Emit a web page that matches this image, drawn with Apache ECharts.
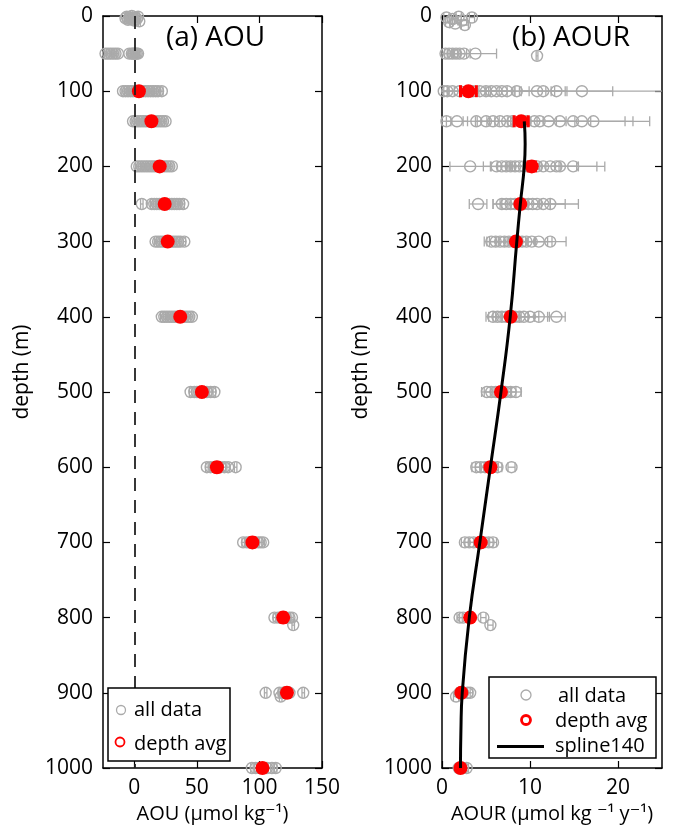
<!DOCTYPE html>
<html>
<head>
<meta charset="utf-8">
<script src="https://cdn.jsdelivr.net/npm/echarts@6/dist/echarts.min.js"></script>
<style>
  html, body { margin: 0; padding: 0; background: #fff; }
  #main { width: 680px; height: 829px; }
</style>
</head>
<body>
<div id="main"></div>
<script>
// depth ticks shared by both panels
var depthTicks = [0, 100, 200, 300, 400, 500, 600, 700, 800, 900, 1000];
var aouTicks = [0, 50, 100, 150];
var aourTicks = [0, 10, 20];

// (a) AOU, all data: [AOU, depth, error]
var aouAll = [
  [-7, 3, 0.8], [-6, 1, 0.8], [-5, 5, 0.8], [-4, 2, 0.8], [-3, 4, 0.8], [-2, 0, 0.8], [-1, 3, 0.8],
  [0, 6, 0.8], [1, 2, 0.8], [2, 4, 0.8], [3, 1, 0.8], [4, 7, 0.8],
  [-23, 50, 0.8], [-21, 50, 0.8], [-19, 50, 0.8], [-17, 50, 0.8], [-15, 50, 0.8], [-13, 50, 0.8],
  [-4, 50, 0.8], [-2, 50, 0.8], [-1, 50, 0.8], [0, 50, 0.8], [1, 50, 0.8], [2, 50, 0.8], [3, 50, 0.8],
  [-9, 100, 1], [-7, 100, 1], [-5, 100, 1], [-3, 100, 1], [-1, 100, 1], [1, 100, 1], [3, 100, 1],
  [5, 100, 1], [7, 100, 1], [9, 100, 1], [11, 100, 1], [13, 100, 1], [15, 100, 1], [17, 100, 1],
  [19, 100, 1], [22, 100, 1],
  [-1, 140, 1], [1, 140, 1], [3, 140, 1], [5, 140, 1], [7, 140, 1], [9, 140, 1], [11, 140, 1],
  [13, 140, 1], [15, 140, 1], [17, 140, 1], [19, 140, 1], [21, 140, 1], [23, 140, 1], [25, 140, 1],
  [2, 200, 1], [4, 200, 1], [6, 200, 1], [8, 200, 1], [10, 200, 1], [12, 200, 1], [14, 200, 1],
  [16, 200, 1], [18, 200, 1], [20, 200, 1], [22, 200, 1], [24, 200, 1], [26, 200, 1], [28, 200, 1],
  [30, 200, 1],
  [6, 250, 1], [14, 250, 1], [16, 250, 1], [18, 250, 1], [20, 250, 1], [22, 250, 1], [24, 250, 1],
  [26, 250, 1], [28, 250, 1], [30, 250, 1], [32, 250, 1], [34, 250, 1], [36, 250, 1], [39, 250, 1],
  [17, 300, 1], [19, 300, 1], [21, 300, 1], [23, 300, 1], [25, 300, 1], [27, 300, 1], [29, 300, 1],
  [31, 300, 1], [33, 300, 1], [35, 300, 1], [37, 300, 1], [40, 300, 1],
  [22, 400, 1], [24, 400, 1], [26, 400, 1], [28, 400, 1], [30, 400, 1], [32, 400, 1], [34, 400, 1],
  [36, 400, 1], [38, 400, 1], [40, 400, 1], [42, 400, 1], [44, 400, 1], [46, 400, 1],
  [45, 500, 1], [48, 500, 1], [50, 500, 1], [52, 500, 1], [54, 500, 1], [56, 500, 1], [58, 500, 1],
  [61, 500, 1], [64, 500, 1],
  [58, 600, 1], [61, 600, 1], [64, 600, 1], [66, 600, 1], [69, 600, 1], [72, 600, 1], [75, 600, 1],
  [81, 600, 1],
  [87, 700, 1], [90, 700, 1], [93, 700, 1], [96, 700, 1], [99, 700, 1], [101, 700, 1], [103, 700, 1],
  [112, 800, 1], [115, 800, 1], [118, 800, 1], [121, 800, 1], [124, 800, 1], [126, 800, 1], [127, 810, 1],
  [105, 900, 1], [116, 900, 1], [117, 905, 1], [119, 900, 1], [121, 900, 1], [124, 900, 1], [135, 900, 1],
  [94, 1000, 1], [97, 1000, 1], [100, 1000, 1], [103, 1000, 1], [106, 1000, 1], [110, 1000, 1], [113, 1000, 1]
];

// (a) AOU, depth average: [AOU, depth, error]
var aouAvg = [
  [3.7, 100, 0.4], [13.7, 140, 0.4], [20.3, 200, 0.4], [24.3, 250, 0.4], [26.7, 300, 0.4],
  [36.7, 400, 0.5], [54, 500, 1], [66, 600, 2], [94.4, 700, 2], [119, 800, 2], [122, 900, 2], [102.4, 1000, 2]
];

// (b) AOUR, all data: [AOUR, depth, error]
var aourAll = [
  [0.5, 2, 0.3], [0.8, 8, 0.4], [1.2, 4, 0.3], [1.5, 10, 0.6], [1.9, 1, 0.3], [2.3, 6, 0.5], [2.6, 12, 0.4], [3.4, 2, 0.3],
  [0.4, 50, 0.4], [0.8, 50, 0.5], [1.2, 50, 0.6], [1.6, 50, 0.5], [2.0, 50, 0.8], [2.5, 50, 0.7], [3.8, 50, 2.4], [10.8, 53, 0.1],
  [0.2, 100, 0.4], [0.6, 100, 0.8], [1.2, 100, 1], [2.0, 100, 1.2], [3.5, 100, 1.5], [4.3, 100, 1.2],
  [5.0, 100, 1.5], [5.6, 100, 1.8], [6.2, 100, 2], [6.8, 100, 1.5], [7.4, 100, 2.5], [8.5, 100, 17],
  [10.8, 100, 2], [11.5, 100, 2.5], [13.0, 100, 1.2], [15.9, 100, 3.5],
  [0.5, 140, 0.5], [1.7, 140, 1.2], [3.9, 140, 1.5], [5.0, 140, 1], [5.8, 140, 2], [6.6, 140, 1.5],
  [7.4, 140, 2], [8.0, 140, 1.5], [9.5, 140, 2], [10.5, 140, 2.5], [11.1, 140, 3], [12.1, 140, 3],
  [13.4, 140, 3.5], [14.9, 140, 5.9], [15.9, 140, 5.8], [17.2, 140, 6.4],
  [3.2, 200, 2.3], [6.2, 200, 1.5], [6.8, 200, 1.2], [7.3, 200, 1], [7.8, 200, 1.5], [8.3, 200, 2],
  [8.8, 200, 1.5], [9.3, 200, 1.8], [9.8, 200, 2], [10.8, 200, 2.5], [11.5, 200, 2], [12.3, 200, 3],
  [13.0, 200, 2.5], [13.4, 200, 4.2], [14.9, 200, 3.6],
  [4.1, 250, 1], [6.8, 250, 1], [7.3, 250, 1.5], [7.8, 250, 1.2], [8.3, 250, 1.5], [8.8, 250, 1],
  [9.3, 250, 1.8], [9.8, 250, 1.5], [10.3, 250, 2], [10.8, 250, 1.5], [11.5, 250, 2.5], [12.3, 250, 3.2],
  [5.6, 300, 0.8], [6.1, 300, 1], [6.6, 300, 1.2], [7.1, 300, 1], [7.6, 300, 1.5], [8.1, 300, 1],
  [8.6, 300, 1.2], [9.1, 300, 1.5], [9.6, 300, 1], [10.2, 300, 1.8], [11.0, 300, 1.5], [12.3, 300, 1.8],
  [5.8, 400, 0.8], [6.3, 400, 1], [6.8, 400, 1], [7.3, 400, 1.2], [7.8, 400, 1], [8.3, 400, 1.5],
  [8.8, 400, 1], [9.3, 400, 1.2], [10.0, 400, 1], [11.0, 400, 1.2], [13.0, 400, 1],
  [5.1, 500, 0.6], [5.6, 500, 0.8], [6.1, 500, 0.6], [6.7, 500, 0.8], [7.2, 500, 0.7], [7.8, 500, 0.6], [8.4, 500, 0.6],
  [3.9, 600, 0.5], [4.4, 600, 0.6], [4.9, 600, 0.6], [5.3, 600, 0.5], [5.8, 600, 0.6], [6.3, 600, 0.5], [7.9, 600, 0.4],
  [2.6, 700, 0.4], [3.1, 700, 0.5], [3.6, 700, 0.5], [4.2, 700, 0.4], [4.8, 700, 0.5], [5.3, 700, 0.5], [5.8, 700, 0.4],
  [2.0, 800, 0.3], [2.4, 800, 0.4], [3.2, 800, 0.4], [4.7, 800, 0.3], [5.5, 810, 0.3],
  [1.6, 905, 0.3], [2.0, 900, 0.3], [2.4, 900, 0.4], [2.9, 900, 0.3], [3.2, 900, 0.3],
  [1.9, 1000, 0.2], [2.4, 1000, 0.3], [2.8, 1000, 0.2]
];

// (b) AOUR, depth average: [AOUR, depth, error]
var aourAvg = [
  [3.0, 100, 0.9], [9.0, 140, 0.8], [10.2, 200, 0.4], [8.9, 250, 0.2], [8.4, 300, 0.2], [7.8, 400, 0.2],
  [6.7, 500, 0.2], [5.5, 600, 0.2], [4.4, 700, 0.2], [3.2, 800, 0.2], [2.2, 900, 0.2], [2.1, 1000, 0.1]
];

// spline fit below 140 m: [AOUR, depth]
var spline140 = [
  [9.35, 140], [9.45, 170], [9.35, 200], [8.9, 250], [8.5, 300], [7.75, 400], [6.7, 500],
  [5.5, 600], [4.3, 700], [3.1, 800], [2.3, 900], [2.15, 950], [2.1, 1000]
];

var FONT = '"Open Sans", "DejaVu Sans", sans-serif';
var GRAY = '#aaaaaa';
var RED = '#ff0000';

// error bar + marker, endpoints clamped to the axis range
function errBar(color, r, lw, cap, filled, xmin, xmax) {
  return function (params, api) {
    var x = api.value(0), d = api.value(1), e = api.value(2);
    var a = Math.max(x - e, xmin), b = Math.min(x + e, xmax);
    var c = api.coord([x, d]);
    var lo = api.coord([a, d]);
    var hi = api.coord([b, d]);
    var st = { stroke: color, lineWidth: lw, fill: null };
    var kids = [
      { type: 'line', shape: { x1: lo[0], y1: c[1], x2: hi[0], y2: c[1] }, style: st }
    ];
    if (a === x - e) kids.push({ type: 'line', shape: { x1: lo[0], y1: c[1] - cap, x2: lo[0], y2: c[1] + cap }, style: st });
    if (b === x + e) kids.push({ type: 'line', shape: { x1: hi[0], y1: c[1] - cap, x2: hi[0], y2: c[1] + cap }, style: st });
    kids.push({
      type: 'circle', shape: { cx: c[0], cy: c[1], r: r },
      style: filled ? { fill: color } : { fill: null, stroke: color, lineWidth: 1.4 }
    });
    return { type: 'group', children: kids };
  };
}

function depthAxis(grid, right) {
  return {
    type: 'value', gridIndex: grid, inverse: true, min: 0, max: 1000, interval: 100,
    position: right ? 'right' : 'left',
    name: right ? '' : 'depth (m)', nameLocation: 'middle', nameGap: 70, nameRotate: 90,
    nameTextStyle: { fontFamily: FONT, fontSize: 21, color: '#000', padding: [0, 0, 0, 40] },
    axisLine: { show: true, onZero: false, lineStyle: { color: '#000', width: 1.5 } },
    axisTick: { show: true, inside: true, length: 7, lineStyle: { color: '#000', width: 1.2 } },
    axisLabel: {
      show: !right, fontFamily: FONT, fontSize: 21, color: '#000', margin: 10,
      formatter: function (v) { return String(v); }
    },
    splitLine: { show: false }
  };
}

function valAxis(grid, top, min, max, ticks, name) {
  return {
    type: 'value', gridIndex: grid, min: min, max: max, position: top ? 'top' : 'bottom',
    name: top ? '' : name, nameLocation: 'middle', nameGap: 36,
    nameTextStyle: { fontFamily: FONT, fontSize: 20, color: '#000' },
    axisLine: { show: true, onZero: false, lineStyle: { color: '#000', width: 1.5 } },
    axisTick: { show: true, inside: true, length: 7, customValues: ticks, lineStyle: { color: '#000', width: 1.2 } },
    axisLabel: { show: !top, customValues: ticks, fontFamily: FONT, fontSize: 21, color: '#000', margin: 10 },
    splitLine: { show: false }
  };
}

var chart = echarts.init(document.getElementById('main'));
chart.setOption({
  backgroundColor: '#fff',
  animation: false,
  grid: [
    { left: 103, top: 16, width: 219, height: 753 },
    { left: 442, top: 16, width: 220, height: 753 }
  ],
  xAxis: [
    valAxis(0, false, -25, 150, aouTicks, 'AOU (μmol kg⁻¹)'),
    valAxis(0, true, -25, 150, aouTicks, ''),
    valAxis(1, false, 0, 25, aourTicks, 'AOUR (μmol kg ⁻¹ y⁻¹)'),
    valAxis(1, true, 0, 25, aourTicks, '')
  ],
  yAxis: [depthAxis(0, false), depthAxis(0, true), depthAxis(1, false), depthAxis(1, true)],
  series: [
    {
      type: 'custom', xAxisIndex: 0, yAxisIndex: 0, data: aouAll,
      renderItem: errBar(GRAY, 5.5, 1.3, 5, false, -25, 150),
      markLine: {
        silent: true, symbol: 'none', label: { show: false },
        lineStyle: { color: '#222', width: 1.8, type: [13, 9] },
        data: [{ xAxis: 0 }]
      }
    },
    { type: 'custom', xAxisIndex: 0, yAxisIndex: 0, data: aouAvg, renderItem: errBar(RED, 7, 3, 6, true, -25, 150) },
    { type: 'custom', xAxisIndex: 2, yAxisIndex: 2, data: aourAll, renderItem: errBar(GRAY, 5.5, 1.3, 5, false, 0, 25) },
    { type: 'custom', xAxisIndex: 2, yAxisIndex: 2, data: aourAvg, renderItem: errBar(RED, 7, 3, 6, true, 0, 25) },
    {
      type: 'line', xAxisIndex: 2, yAxisIndex: 2, data: spline140, smooth: true, symbol: 'none',
      lineStyle: { color: '#000', width: 3 }
    }
  ],
  graphic: [
    { type: 'text', left: 166, top: 24, style: { text: '(a) AOU', font: '28px ' + FONT, fill: '#000' } },
    { type: 'text', left: 512, top: 24, style: { text: '(b) AOUR', font: '28px ' + FONT, fill: '#000' } },
    // legend (a)
    { type: 'rect', shape: { x: 108, y: 688, width: 122, height: 73 }, style: { fill: '#fff', stroke: '#000', lineWidth: 1.5 }, z: 10 },
    { type: 'circle', shape: { cx: 121, cy: 710, r: 4.5 }, style: { fill: null, stroke: GRAY, lineWidth: 1.3 }, z: 11 },
    { type: 'text', x: 134, y: 710, style: { text: 'all data', font: '20px ' + FONT, fill: '#000', verticalAlign: 'middle' }, z: 11 },
    { type: 'circle', shape: { cx: 120, cy: 742, r: 4.5 }, style: { fill: null, stroke: RED, lineWidth: 1.8 }, z: 11 },
    { type: 'text', x: 134, y: 744, style: { text: 'depth avg', font: '20px ' + FONT, fill: '#000', verticalAlign: 'middle' }, z: 11 },
    // legend (b)
    { type: 'rect', shape: { x: 489, y: 677, width: 167, height: 81 }, style: { fill: '#fff', stroke: '#000', lineWidth: 1.5 }, z: 10 },
    { type: 'circle', shape: { cx: 526, cy: 695, r: 5 }, style: { fill: null, stroke: GRAY, lineWidth: 1.3 }, z: 11 },
    { type: 'text', x: 558, y: 696, style: { text: 'all data', font: '20px ' + FONT, fill: '#000', verticalAlign: 'middle' }, z: 11 },
    { type: 'circle', shape: { cx: 526, cy: 720, r: 4.5 }, style: { fill: null, stroke: RED, lineWidth: 2.8 }, z: 11 },
    { type: 'text', x: 555, y: 721, style: { text: 'depth avg', font: '20px ' + FONT, fill: '#000', verticalAlign: 'middle' }, z: 11 },
    { type: 'line', shape: { x1: 497, y1: 746.5, x2: 544, y2: 746.5 }, style: { stroke: '#000', lineWidth: 3 }, z: 11 },
    { type: 'text', x: 555, y: 746, style: { text: 'spline140', font: '20px ' + FONT, fill: '#000', verticalAlign: 'middle' }, z: 11 }
  ]
});
</script>
</body>
</html>
